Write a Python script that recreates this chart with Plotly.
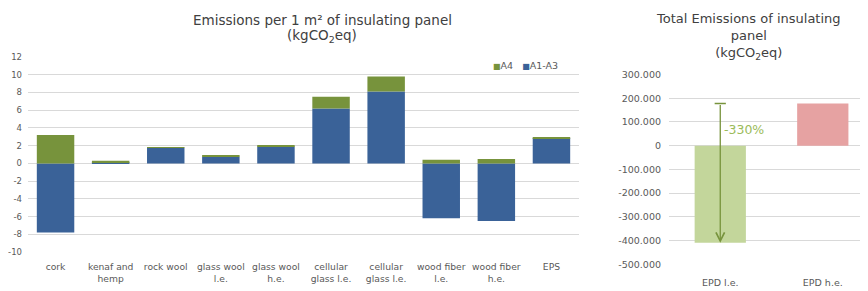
import plotly.graph_objects as go

# ---- data: left chart (per 1 m2) ----
materials = ["cork", "kenaf and<br>hemp", "rock wool", "glass wool<br>l.e.", "glass wool<br>h.e.",
             "cellular<br>glass l.e.", "cellular<br>glass l.e.", "wood fiber<br>l.e.", "wood fiber<br>h.e.", "EPS"]
a1_a3 = [-7.8, 0.1, 1.75, 0.75, 1.9, 6.2, 8.1, -6.2, -6.5, 2.85]
a4 = [3.2, 0.2, 0.1, 0.1, 0.1, 1.3, 1.7, 0.4, 0.5, 0.1]
left_tickvals = [12, 10, 8, 6, 4, 2, 0, -2, -4, -6, -8, -10]
left_ticktext = ["12", "10", "8", "6", "4", "2", "0", "-2", "-4", "-6", "-8", "-10"]

# ---- data: right chart (total) ----
epd_labels = ["EPD l.e.", "EPD h.e."]
epd_values = [-410000, 178000]
right_tickvals = [300000, 200000, 100000, 0, -100000, -200000, -300000, -400000, -500000]
right_ticktext = ["300.000", "200.000", "100.000", "0", "-100.000", "-200.000", "-300.000", "-400.000", "-500.000"]
change_label = "-330%"

# page is offset by the browser's 8px body margin
PW, PH = 868, 291
OX, OY = 8, 8
W, H = PW - OX, PH - OY

def px(x):
    return (x - OX) / W

def py(y):
    return (PH - y) / H

BLUE = "#3a6298"
GREEN = "#77933c"
GRID = "#d9d9d9"
TICK = "#595959"
TITLE = "#404040"
FONT = "DejaVu Sans"

xpos = list(range(len(materials)))

fig = go.Figure()
fig.add_bar(x=xpos, y=a1_a3, name="A1-A3", marker=dict(color=BLUE, line_width=0),
            xaxis="x", yaxis="y", showlegend=False)
fig.add_bar(x=xpos, y=a4, name="A4", marker=dict(color=GREEN, line_width=0),
            xaxis="x", yaxis="y", showlegend=False)

fig.add_bar(x=[0, 1], y=epd_values, marker=dict(color=["#c3d69b", "#e6a2a2"], line_width=0),
            xaxis="x2", yaxis="y2", showlegend=False, width=0.5)
# cap at the top of the arrow (h.e. level)
fig.add_scatter(x=[0], y=[epd_values[1]], mode="markers", xaxis="x2", yaxis="y2", showlegend=False,
                marker=dict(symbol="line-ew-open", size=8, color=GREEN, line=dict(color=GREEN, width=1.5)),
                hoverinfo="skip")

fig.update_layout(
    width=W, height=H,
    margin=dict(l=0, r=0, t=0, b=0),
    paper_bgcolor="white", plot_bgcolor="white",
    barmode="relative", bargap=0.32,
    font=dict(family=FONT, color=TICK, size=9),
    showlegend=False,
    xaxis=dict(domain=[px(28), px(579)], range=[-0.5, 9.5], tickvals=xpos, ticktext=materials,
               showgrid=False, zeroline=False, showline=False, ticks="",
               tickfont=dict(size=9.2, color=TICK), ticklabelstandoff=8, anchor="y"),
    yaxis=dict(domain=[py(255.7), py(52.7)], range=[-10, 12], tickvals=left_tickvals,
               ticktext=left_ticktext,
               showgrid=True, gridcolor=GRID, gridwidth=1, zeroline=True, zerolinecolor=GRID,
               zerolinewidth=1, showline=False, ticks="", tickfont=dict(size=8.5, color=TICK),
               ticklabelstandoff=5, anchor="x"),
    xaxis2=dict(domain=[px(669), 1.0], range=[-0.5, 1.441], tickvals=[0, 1], ticktext=epd_labels,
                showgrid=False, zeroline=False, showline=False, ticks="",
                tickfont=dict(size=9.5, color=TICK), ticklabelstandoff=11, anchor="y2"),
    yaxis2=dict(domain=[py(268.3), py(71)], range=[-500000, 300000], tickvals=right_tickvals,
                ticktext=right_ticktext, showgrid=True, gridcolor=GRID, gridwidth=1,
                zeroline=True, zerolinecolor=GRID, zerolinewidth=1, showline=False, ticks="",
                tickfont=dict(size=9.5, color=TICK), ticklabelstandoff=7, anchor="x2"),
)

def title_text(text, xc, yc, size):
    return dict(text=text, x=px(xc), y=py(yc), xref="paper", yref="paper", xanchor="center",
                yanchor="middle", showarrow=False, font=dict(family=FONT, size=size, color=TITLE))

legend_text = (f"<span style='color:{GREEN};font-size:8px'>■</span>A4   "
               f"<span style='color:{BLUE};font-size:8px'>■</span>A1-A3")

annotations = [
    title_text("Emissions per 1 m² of insulating panel", 322, 14.5, 13.5),
    title_text("(kgCO<sub>2</sub>eq)", 322, 31, 13.5),
    title_text("Total Emissions of insulating<br>panel<br>(kgCO<sub>2</sub>eq)", 748, 31, 13),
    dict(text=legend_text, x=px(491), y=py(61.5), xref="paper", yref="paper", xanchor="left",
         yanchor="middle", showarrow=False, font=dict(family=FONT, size=9.5, color=TICK)),
    # arrow from h.e. level down to l.e. level
    dict(x=0, y=epd_values[0], ax=0, ay=epd_values[1], xref="x2", yref="y2", axref="x2", ayref="y2",
         showarrow=True, arrowhead=5, arrowsize=1.3, arrowwidth=1.3, arrowcolor=GREEN, text=""),
    dict(text=change_label, x=0, y=68000, xref="x2", yref="y2", xanchor="left", yanchor="middle",
         xshift=2, showarrow=False, font=dict(family=FONT, size=12.5, color="#9bbb59")),
]
fig.update_layout(annotations=annotations)

fig.write_html("out.html")
